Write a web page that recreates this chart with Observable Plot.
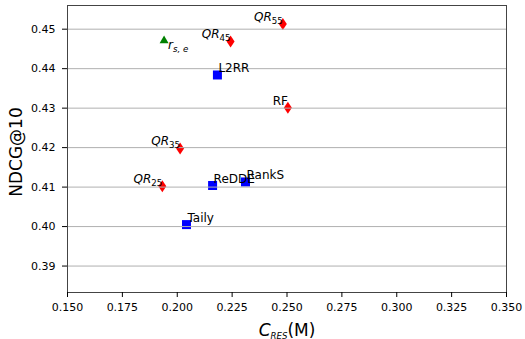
<!DOCTYPE html>
<html><head><meta charset="utf-8">
<script src="https://cdn.jsdelivr.net/npm/d3@7"></script>
<script src="https://cdn.jsdelivr.net/npm/@observablehq/plot@0.6"></script>
<style>
body{margin:0;background:#fff;}
</style></head><body><div id="chart"></div>
<script>
// ---- data ----
const methods = ["r_{s, e}", "QR_{45}", "QR_{55}", "L2RR", "RF", "QR_{35}", "QR_{25}", "ReDDE", "RankS", "Taily"];
const groups  = ["rse", "qr", "qr", "sel", "qr", "qr", "qr", "sel", "sel", "sel"];
const cres    = [0.1940, 0.2243, 0.2481, 0.2183, 0.2504, 0.2013, 0.1932, 0.2161, 0.2311, 0.2042];
const ndcg    = [0.4473, 0.4469, 0.4513, 0.4384, 0.4301, 0.4198, 0.4102, 0.4104, 0.4113, 0.4005];
const labelSide = ["below", "left", "left", "right", "left", "left", "left", "right", "right", "right"];
const xTicks = [0.150, 0.175, 0.200, 0.225, 0.250, 0.275, 0.300, 0.325, 0.350];
const yTicks = [0.39, 0.40, 0.41, 0.42, 0.43, 0.44, 0.45];
const xLabel = "C_{RES}(M)";
const yLabel = "NDCG@10";

const rows = methods.map((m, i) => ({name: m, group: groups[i], x: cres[i], y: ndcg[i], side: labelSide[i]}));

// ---- custom marker shapes ----
const thinDiamond = {draw(ctx, size) { const r = Math.sqrt(size / Math.PI);
  ctx.moveTo(0, -r * 1.2); ctx.lineTo(r * 0.8, 0); ctx.lineTo(0, r * 1.2); ctx.lineTo(-r * 0.8, 0); ctx.closePath(); }};
const square = {draw(ctx, size) { const r = Math.sqrt(size / Math.PI) * 0.9;
  ctx.rect(-r, -r, 2 * r, 2 * r); }};
const triangle = {draw(ctx, size) { const r = Math.sqrt(size / Math.PI);
  ctx.moveTo(0, -r * 0.85); ctx.lineTo(r * 0.9, r * 0.7); ctx.lineTo(-r * 0.9, r * 0.7); ctx.closePath(); }};

const lblFont = {fontSize: 12, fill: "#000", lineAnchor: "bottom"};

const plot = Plot.plot({
  width: 525, height: 339,
  marginLeft: 67, marginRight: 19, marginTop: 5, marginBottom: 47,
  style: {fontFamily: "DejaVu Sans", fontSize: "11px", color: "#000", background: "#fff"},
  x: {domain: [0.15, 0.35]},
  y: {domain: [0.3833, 0.4560]},
  marks: [
    Plot.dot(rows.filter(d => d.group === "qr"), {x: "x", y: "y", r: 5, symbol: thinDiamond, fill: "#ff0000", stroke: "none"}),
    Plot.dot(rows.filter(d => d.group === "sel"), {x: "x", y: "y", r: 5, symbol: square, fill: "#0000ff", stroke: "none"}),
    Plot.dot(rows.filter(d => d.group === "rse"), {x: "x", y: "y", r: 5, symbol: triangle, fill: "#008000", stroke: "none"}),
    Plot.gridY(yTicks, {stroke: "#b0b0b0", strokeOpacity: 1, strokeWidth: 1}),
    Plot.frame({stroke: "#444", strokeWidth: 1}),
    Plot.axisX(xTicks, {tickFormat: d3.format(".3f"), tickSize: 5, tickPadding: 6, label: null, fontSize: 11}),
    Plot.axisY(yTicks, {tickFormat: d3.format(".2f"), tickSize: 5, tickPadding: 7, label: null, fontSize: 11}),
    Plot.text(rows.filter(d => d.side === "right"), {x: "x", y: "y", text: "name", textAnchor: "start", dx: 1, dy: -3, ...lblFont}),
    Plot.text(rows.filter(d => d.side === "left"), {x: "x", y: "y", text: "name", textAnchor: "end", dx: 0, dy: -3, ...lblFont}),
    Plot.text(rows.filter(d => d.side === "below"), {x: "x", y: "y", text: "name", textAnchor: "start", dx: 4, dy: 9, ...lblFont}),
    Plot.text([xLabel], {frameAnchor: "bottom", text: d => d, textAnchor: "middle", dy: 43, fontSize: 17, lineAnchor: "bottom", fill: "#000"}),
    Plot.text([yLabel], {frameAnchor: "left", text: d => d, textAnchor: "middle", dx: -46, dy: 3, rotate: -90, fontSize: 17, lineAnchor: "bottom", fill: "#000"})
  ]
});

// rich text: base_{sub}rest  -> italic base, subscript
d3.select(plot).selectAll("text").each(function() {
  const t = this.textContent;
  const m = /^(.*?)_\{(.*?)\}(.*)$/.exec(t);
  if (!m) return;
  const fs = parseFloat(getComputedStyle(this).fontSize) || 12;
  const el = d3.select(this);
  el.text(null);
  el.append("tspan").attr("font-style", "italic").text(m[1]);
  const subItalic = /[A-Za-z]/.test(m[2]);
  el.append("tspan").attr("font-size", fs * 0.72).attr("dy", fs * 0.25)
    .attr("font-style", subItalic ? "italic" : "normal").text(m[2]);
  if (m[3]) el.append("tspan").attr("dy", -fs * 0.25).text(m[3]);
});

document.getElementById("chart").appendChild(plot);
</script>
</body></html>
